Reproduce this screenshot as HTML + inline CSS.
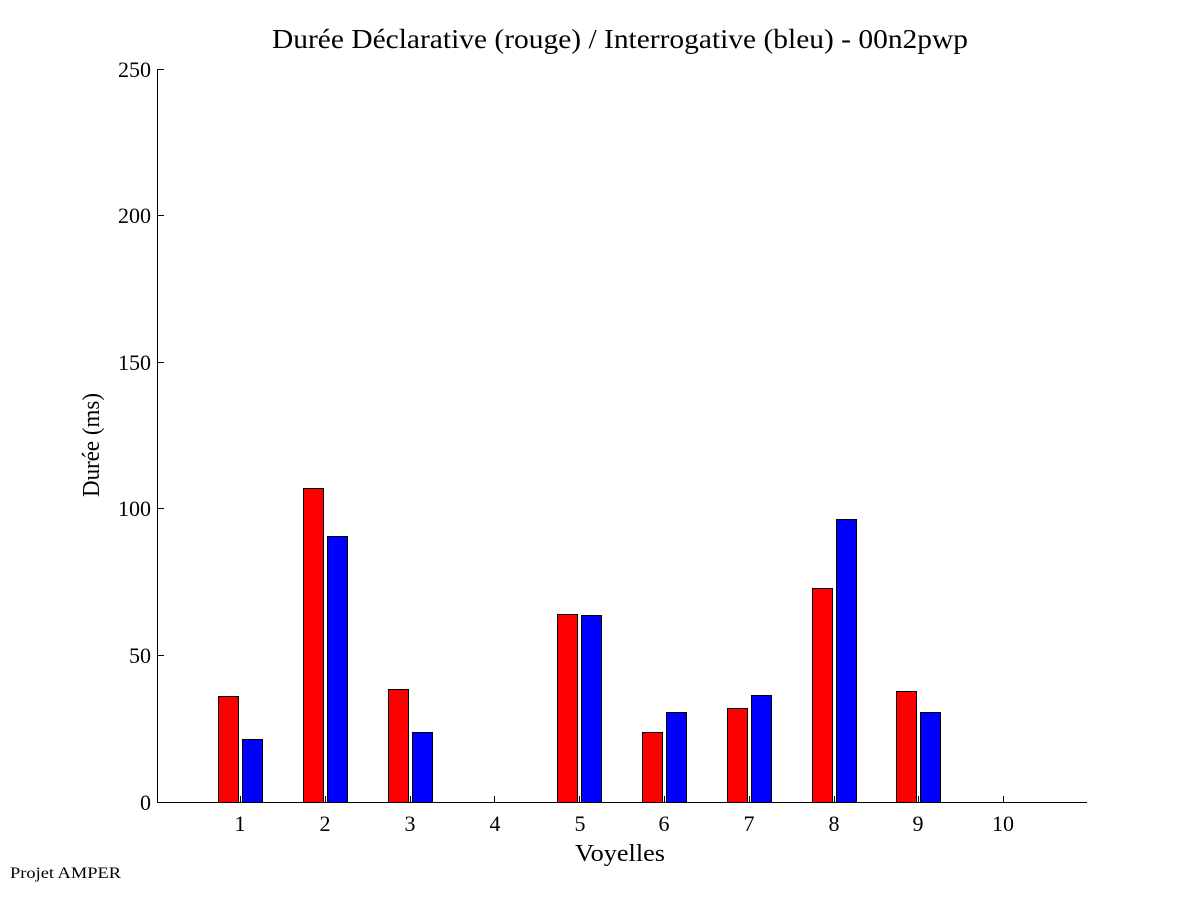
<!DOCTYPE html>
<html><head><style>body{margin:0;background:#fff}</style></head><body>
<svg width="1201" height="901" xmlns="http://www.w3.org/2000/svg" font-family="Liberation Serif, serif">
<rect width="1201" height="901" fill="#fff"/>
<text x="272" y="48" font-size="27" textLength="696" lengthAdjust="spacingAndGlyphs">Durée Déclarative (rouge) / Interrogative (bleu) - 00n2pwp</text>
<g stroke="#000" stroke-width="1">
<line x1="157.5" y1="69" x2="157.5" y2="802"/>
<line x1="157" y1="802.5" x2="1087" y2="802.5"/>
<line x1="157" y1="69.5" x2="164" y2="69.5"/>
<line x1="157" y1="215.5" x2="164" y2="215.5"/>
<line x1="157" y1="362.5" x2="164" y2="362.5"/>
<line x1="157" y1="508.5" x2="164" y2="508.5"/>
<line x1="157" y1="655.5" x2="164" y2="655.5"/>
</g>
<g font-size="22" text-anchor="end">
<text x="151" y="77">250</text><text x="151" y="223">200</text><text x="151" y="370">150</text>
<text x="151" y="516">100</text><text x="151" y="663">50</text><text x="151" y="810">0</text>
</g>
<g stroke="#000" stroke-width="1">
<rect x="218.5" y="696.5" width="20" height="106" fill="#f00"/>
<rect x="242.5" y="739.5" width="20" height="63" fill="#00f"/>
<rect x="303.5" y="488.5" width="20" height="314" fill="#f00"/>
<rect x="327.5" y="536.5" width="20" height="266" fill="#00f"/>
<rect x="388.5" y="689.5" width="20" height="113" fill="#f00"/>
<rect x="412.5" y="732.5" width="20" height="70" fill="#00f"/>
<rect x="557.5" y="614.5" width="20" height="188" fill="#f00"/>
<rect x="581.5" y="615.5" width="20" height="187" fill="#00f"/>
<rect x="642.5" y="732.5" width="20" height="70" fill="#f00"/>
<rect x="666.5" y="712.5" width="20" height="90" fill="#00f"/>
<rect x="727.5" y="708.5" width="20" height="94" fill="#f00"/>
<rect x="751.5" y="695.5" width="20" height="107" fill="#00f"/>
<rect x="812.5" y="588.5" width="20" height="214" fill="#f00"/>
<rect x="836.5" y="519.5" width="20" height="283" fill="#00f"/>
<rect x="896.5" y="691.5" width="20" height="111" fill="#f00"/>
<rect x="920.5" y="712.5" width="20" height="90" fill="#00f"/>
</g>
<g stroke="#000" stroke-width="1">
<line x1="240.5" y1="796" x2="240.5" y2="802"/><line x1="325.5" y1="796" x2="325.5" y2="802"/>
<line x1="410.5" y1="796" x2="410.5" y2="802"/><line x1="494.5" y1="796" x2="494.5" y2="802"/>
<line x1="579.5" y1="796" x2="579.5" y2="802"/><line x1="664.5" y1="796" x2="664.5" y2="802"/>
<line x1="749.5" y1="796" x2="749.5" y2="802"/><line x1="834.5" y1="796" x2="834.5" y2="802"/>
<line x1="918.5" y1="796" x2="918.5" y2="802"/><line x1="1003.5" y1="796" x2="1003.5" y2="802"/>
</g>
<g font-size="22" text-anchor="middle">
<text x="240" y="831">1</text><text x="325" y="831">2</text><text x="410" y="831">3</text>
<text x="495" y="831">4</text><text x="580" y="831">5</text><text x="664" y="831">6</text>
<text x="749" y="831">7</text><text x="834" y="831">8</text><text x="918" y="831">9</text>
<text x="1003" y="831">10</text>
</g>
<text x="575" y="861" font-size="24" textLength="90" lengthAdjust="spacingAndGlyphs">Voyelles</text>
<text transform="translate(99,497) rotate(-90)" font-size="24" textLength="104" lengthAdjust="spacingAndGlyphs">Durée (ms)</text>
<text x="10" y="878" font-size="16" textLength="111" lengthAdjust="spacingAndGlyphs">Projet AMPER</text>
</svg>
</body></html>
